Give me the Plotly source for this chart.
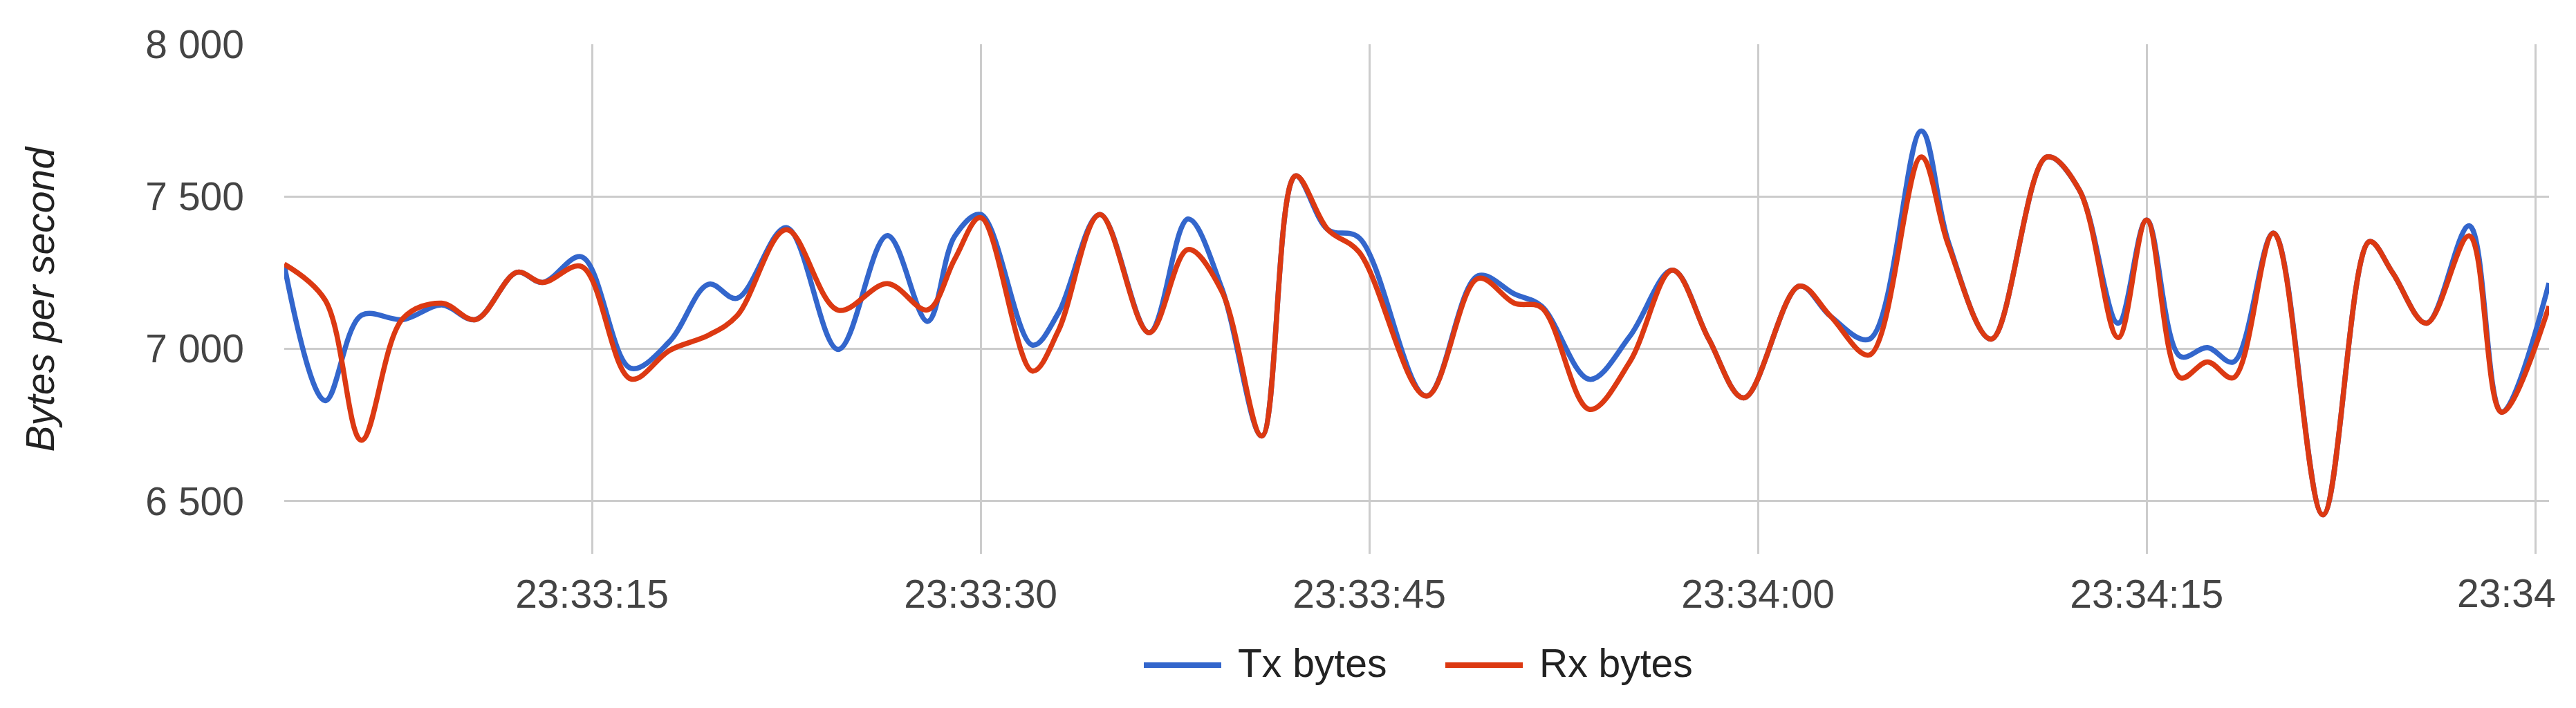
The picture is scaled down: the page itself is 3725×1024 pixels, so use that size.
import plotly.graph_objects as go

# ---- data -------------------------------------------------------------
day = "2024-01-01"
times = [
    "23:33:03.12", "23:33:04.70", "23:33:06.10", "23:33:07.70", "23:33:09.20",
    "23:33:10.50", "23:33:12.10", "23:33:13.10", "23:33:14.60", "23:33:16.50",
    "23:33:18.00", "23:33:19.50", "23:33:20.60", "23:33:22.50", "23:33:24.50",
    "23:33:26.40", "23:33:27.95", "23:33:29.00", "23:33:30.00", "23:33:32.00",
    "23:33:33.00", "23:33:34.60", "23:33:36.50", "23:33:38.00", "23:33:39.30",
    "23:33:40.85", "23:33:42.15", "23:33:43.40", "23:33:44.60", "23:33:47.20",
    "23:33:49.20", "23:33:50.60", "23:33:51.65", "23:33:53.50", "23:33:55.05",
    "23:33:56.70", "23:33:58.10", "23:33:59.45", "23:34:01.60", "23:34:02.80",
    "23:34:04.30", "23:34:06.30", "23:34:07.35", "23:34:09.00", "23:34:11.15",
    "23:34:12.40", "23:34:13.90", "23:34:15.00", "23:34:16.30", "23:34:17.35",
    "23:34:18.35", "23:34:19.90", "23:34:21.80", "23:34:23.60", "23:34:24.50",
    "23:34:25.80", "23:34:27.45", "23:34:28.70", "23:34:30.53",
]
tx_bytes = [
    7275, 6830, 7110, 7096, 7144, 7096, 7251, 7218, 7302, 6936,
    7025, 7212, 7166, 7398, 6998, 7372, 7090, 7370, 7441, 7012,
    7118, 7441, 7053, 7426, 7200, 6714, 7568, 7391, 7365, 6845,
    7240, 7180, 7140, 6900, 7041, 7258, 7032, 6839, 7206, 7107,
    7032, 7715, 7350, 7032, 7630, 7522, 7084, 7423, 6975, 7004,
    6957, 7380, 6455, 7352, 7249, 7084, 7404, 6792, 7216,
]
rx_bytes = [
    7278, 7160, 6700, 7100, 7150, 7096, 7251, 7218, 7270, 6901,
    6995, 7045, 7109, 7391, 7127, 7214, 7128, 7295, 7431, 6927,
    7060, 7441, 7053, 7326, 7190, 6714, 7568, 7391, 7318, 6845,
    7231, 7150, 7135, 6801, 6957, 7258, 7032, 6839, 7206, 7107,
    6980, 7630, 7340, 7032, 7630, 7522, 7037, 7423, 6905, 6957,
    6905, 7380, 6455, 7352, 7249, 7084, 7371, 6792, 7140,
]
x_tick_times = ["23:33:15", "23:33:30", "23:33:45", "23:34:00", "23:34:15", "23:34:30"]
x_tick_labels = ["23:33:15", "23:33:30", "23:33:45", "23:34:00", "23:34:15", ""]
last_tick_label = "23:34"
y_tick_values = [6500, 7000, 7500, 8000]
y_tick_labels = ["6 500", "7 000", "7 500", "8 000"]
y_range = [6327, 8000]
series_names = ["Tx bytes", "Rx bytes"]
series_colors = ["#3366cc", "#dc3912"]

# ---- figure -----------------------------------------------------------
FONT = "Liberation Sans, Arial, Helvetica, sans-serif"
x = [f"{day} {t}" for t in times]

fig = go.Figure()
for name, vals, col in zip(series_names, [tx_bytes, rx_bytes], series_colors):
    fig.add_trace(go.Scatter(
        x=x, y=vals, name=name, mode="lines",
        line=dict(color=col, width=7.5, shape="spline", smoothing=1.0),
    ))

fig.update_layout(
    width=3725, height=1024,
    margin=dict(l=403, r=47, t=56, b=231, autoexpand=False),
    plot_bgcolor="white", paper_bgcolor="white",
    showlegend=False,
    font=dict(family=FONT, size=57, color="#444444"),
)
fig.update_xaxes(
    type="date", automargin=False,
    range=[x[0], x[-1]],
    tickvals=[f"{day} {t}" for t in x_tick_times],
    ticktext=x_tick_labels,
    showgrid=True, gridcolor="#cccccc", gridwidth=3,
    zeroline=False, showline=False, ticks="",
    ticklabelstandoff=20,
    tickfont=dict(family=FONT, size=57, color="#444444"),
)
fig.update_yaxes(
    automargin=False,
    range=y_range,
    tickvals=y_tick_values, ticktext=y_tick_labels,
    showgrid=True, gridcolor="#cccccc", gridwidth=3,
    zeroline=False, showline=False, ticks="",
    ticklabelstandoff=57,
    tickfont=dict(family=FONT, size=57, color="#444444"),
)

# plot-area geometry in pixels (for placing non-data furniture)
PL, PR, PT, PB = 403, 3678, 56, 793
def px(xp):
    return (xp - PL) / (PR - PL)
def py(yp):
    return (PB - yp) / (PB - PT)

annotations = [
    # y-axis title
    dict(text="<i>Bytes per second</i>", xref="paper", yref="paper",
         x=px(49), y=0.5, xanchor="center", yanchor="middle",
         textangle=-90, showarrow=False,
         font=dict(family=FONT, size=57, color="#222222")),
    # truncated last tick label
    dict(text=last_tick_label, xref="paper", yref="paper",
         x=px(3690), y=py(850), xanchor="right", yanchor="middle",
         showarrow=False, font=dict(family=FONT, size=57, color="#444444")),
]
shapes = []
legend_items = [(1646, 1758, 1780), (2082, 2194, 2216)]
for (lx0, lx1, tx), name, col in zip(legend_items, series_names, series_colors):
    shapes.append(dict(type="line", xref="paper", yref="paper",
                       x0=px(lx0), x1=px(lx1), y0=py(954), y1=py(954),
                       line=dict(color=col, width=8)))
    annotations.append(dict(text=name, xref="paper", yref="paper",
                            x=px(tx), y=py(951), xanchor="left", yanchor="middle",
                            showarrow=False,
                            font=dict(family=FONT, size=57, color="#222222")))
fig.update_layout(annotations=annotations, shapes=shapes)

fig.write_html("out.html")
